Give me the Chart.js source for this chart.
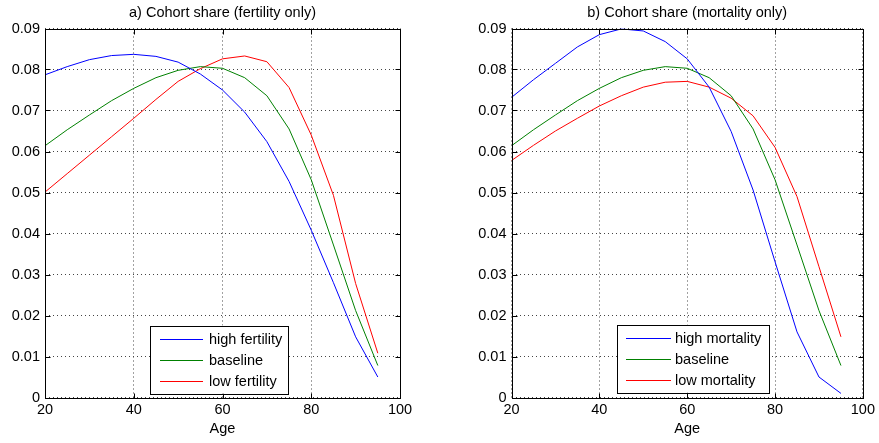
<!DOCTYPE html>
<html>
<head>
<meta charset="utf-8">
<script src="https://cdn.jsdelivr.net/npm/chart.js@4.4.0/dist/chart.umd.min.js"></script>
<style>
  body { margin: 0; background: #fff; }
  #wrap { position: relative; width: 879px; height: 443px; }
  canvas { position: absolute; top: 0; }
</style>
</head>
<body>
<div id="wrap">
  <canvas id="graficoA" width="440" height="443" style="left:0px"></canvas>
  <canvas id="graficoB" width="439" height="443" style="left:440px"></canvas>
</div>
<script>
let idades = [20, 25, 30, 35, 40, 45, 50, 55, 60, 65, 70, 75, 80, 85, 90, 95];

let baseline = [0.0614, 0.0653, 0.0689, 0.0724, 0.0754, 0.0780, 0.0798, 0.0807, 0.0803, 0.0780, 0.0736, 0.0655, 0.0531, 0.0372, 0.0212, 0.0078];

let altaFertilidade = [0.0787, 0.0807, 0.0824, 0.0834, 0.0837, 0.0832, 0.0818, 0.0789, 0.0750, 0.0696, 0.0624, 0.0527, 0.0408, 0.0280, 0.0148, 0.0050];
let baixaFertilidade = [0.0501, 0.0546, 0.0591, 0.0636, 0.0681, 0.0727, 0.0771, 0.0802, 0.0826, 0.0833, 0.0819, 0.0756, 0.0640, 0.0493, 0.0278, 0.0108];

let altaMortalidade = [0.0732, 0.0775, 0.0815, 0.0855, 0.0885, 0.0899, 0.0894, 0.0868, 0.0826, 0.0757, 0.0649, 0.0506, 0.0331, 0.0160, 0.0050, 0.0010];
let baixaMortalidade = [0.0578, 0.0615, 0.0650, 0.0681, 0.0711, 0.0736, 0.0757, 0.0769, 0.0771, 0.0757, 0.0730, 0.0687, 0.0610, 0.0490, 0.0319, 0.0148];

let xTicks = [20, 40, 60, 80, 100];
let yTicks = [0, 0.01, 0.02, 0.03, 0.04, 0.05, 0.06, 0.07, 0.08, 0.09];

let fonte = "'Liberation Sans', Arial, Helvetica, sans-serif";
Chart.defaults.color = "#000";
Chart.defaults.font.family = fonte;
Chart.defaults.font.size = 14.5;

function pontos(valores) {
  return idades.map(function (a, i) { return { x: a, y: valores[i] }; });
}

// MOLDURA, TITULO E LEGENDA (estilo matlab)
let molduraPlugin = {
  id: "moldura",
  afterDraw: function (chart, args, opts) {
    let ctx = chart.ctx;
    let area = chart.chartArea;
    let sx = chart.scales.x;
    let sy = chart.scales.y;
    let l = Math.round(area.left) + 0.5;
    let r = Math.round(area.right) + 0.5;
    let t = Math.round(area.top) + 0.5;
    let b = Math.round(area.bottom) + 0.5;

    ctx.save();
    ctx.strokeStyle = "#000";
    ctx.lineWidth = 1;
    ctx.setLineDash([]);
    ctx.strokeRect(l, t, r - l, b - t);

    // marcas para dentro nos quatro lados
    let tam = 5;
    ctx.beginPath();
    xTicks.forEach(function (v) {
      let px = Math.round(sx.getPixelForValue(v)) + 0.5;
      ctx.moveTo(px, b); ctx.lineTo(px, b - tam);
      ctx.moveTo(px, t); ctx.lineTo(px, t + tam);
    });
    yTicks.forEach(function (v) {
      let py = Math.round(sy.getPixelForValue(v)) + 0.5;
      ctx.moveTo(l, py); ctx.lineTo(l + tam, py);
      ctx.moveTo(r, py); ctx.lineTo(r - tam, py);
    });
    ctx.stroke();

    // titulo
    ctx.fillStyle = "#000";
    ctx.font = "14.5px " + fonte;
    ctx.textAlign = "center";
    ctx.textBaseline = "middle";
    ctx.fillText(opts.titulo, (area.left + area.right) / 2, 12.5);

    // legenda
    let lg = opts.legenda;
    ctx.fillStyle = "#fff";
    ctx.fillRect(lg.x, lg.y, lg.w, lg.h);
    ctx.strokeStyle = "#000";
    ctx.strokeRect(Math.round(lg.x) + 0.5, Math.round(lg.y) + 0.5, lg.w, lg.h);
    ctx.textAlign = "left";
    chart.data.datasets.forEach(function (ds, i) {
      let yy = lg.y + lg.topo + i * lg.passo;
      ctx.beginPath();
      ctx.strokeStyle = ds.borderColor;
      ctx.moveTo(lg.x + lg.linhaIni, Math.round(yy) + 0.5);
      ctx.lineTo(lg.x + lg.linhaIni + lg.linhaLen, Math.round(yy) + 0.5);
      ctx.stroke();
      ctx.fillStyle = "#000";
      ctx.fillText(ds.label, lg.x + lg.textoIni, yy + 1);
    });
    ctx.restore();
  }
};

// GRAFICO
function criarGrafico(id, titulo, series, nomes, eixoLargura, padDireita, legenda) {
  let cores = ["#0000ff", "#008000", "#ff0000"];
  let ctx = document.getElementById(id).getContext("2d");

  return new Chart(ctx, {
    type: "line",
    data: {
      datasets: series.map(function (s, i) {
        return {
          label: nomes[i],
          data: pontos(s),
          borderColor: cores[i],
          borderWidth: 1,
          pointRadius: 0,
          tension: 0,
          fill: false
        };
      })
    },
    options: {
      responsive: false,
      animation: false,
      layout: { padding: { top: 28.5, right: padDireita, left: 0, bottom: 0 } },
      plugins: {
        legend: { display: false },
        tooltip: { enabled: false },
        moldura: { titulo: titulo, legenda: legenda }
      },
      scales: {
        x: {
          type: "linear",
          min: 20,
          max: 100,
          afterBuildTicks: function (scale) {
            scale.ticks = xTicks.map(function (v) { return { value: v }; });
          },
          afterFit: function (scale) { scale.height = 45.5; },
          ticks: { padding: 4, maxRotation: 0, autoSkip: false },
          grid: { color: "#444", drawTicks: false, lineWidth: 1 },
          border: { display: false, dash: [1, 3] },
          title: { display: true, text: "Age", padding: { top: 0, bottom: 5 } }
        },
        y: {
          min: 0,
          max: 0.09,
          afterBuildTicks: function (scale) {
            scale.ticks = yTicks.map(function (v) { return { value: v }; });
          },
          afterFit: function (scale) { scale.width = eixoLargura; },
          ticks: {
            padding: 5,
            autoSkip: false,
            callback: function (v) { return v === 0 ? "0" : v.toFixed(2); }
          },
          grid: { color: "#444", drawTicks: false, lineWidth: 1 },
          border: { display: false, dash: [1, 3] }
        }
      }
    },
    plugins: [molduraPlugin]
  });
}

criarGrafico(
  "graficoA",
  "a) Cohort share (fertility only)",
  [altaFertilidade, baseline, baixaFertilidade],
  ["high fertility", "baseline", "low fertility"],
  45, 40,
  { x: 150, y: 325.5, w: 138, h: 68, topo: 13, passo: 21.3, linhaIni: 10, linhaLen: 43, textoIni: 59 }
);

criarGrafico(
  "graficoB",
  "b) Cohort share (mortality only)",
  [altaMortalidade, baseline, baixaMortalidade],
  ["high mortality", "baseline", "low mortality"],
  71.5, 13,
  { x: 177, y: 324.5, w: 152, h: 68, topo: 13, passo: 21.3, linhaIni: 9, linhaLen: 45, textoIni: 58 }
);
</script>
</body>
</html>
